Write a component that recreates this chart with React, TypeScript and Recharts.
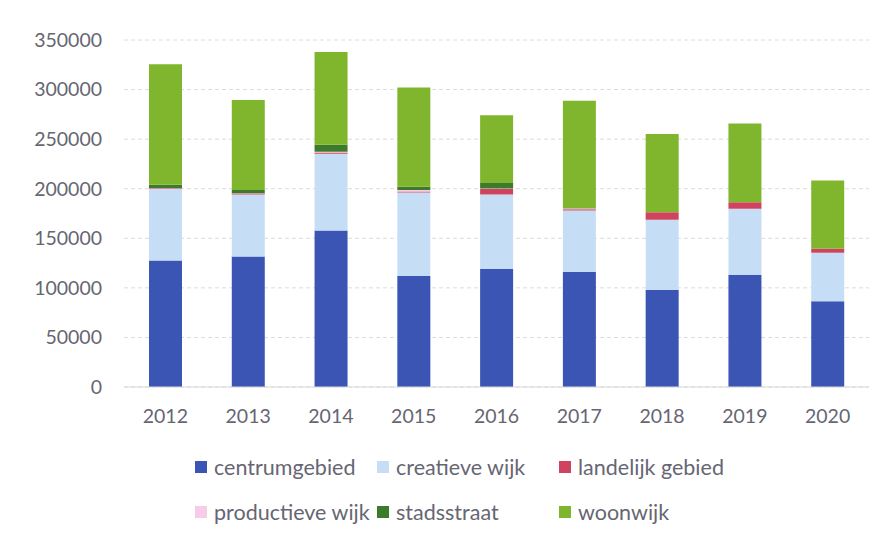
import React from "react";
import { BarChart, Bar, XAxis, YAxis, CartesianGrid } from "recharts";

document.body.style.margin = "0";

const years = ["2012", "2013", "2014", "2015", "2016", "2017", "2018", "2019", "2020"];
const centrumgebied = [127700, 131700, 157900, 111900, 119300, 116000, 98200, 113300, 86500];
const creatieveWijk = [71900, 62400, 77400, 84200, 74800, 62000, 70400, 66400, 49000];
const landelijkGebied = [800, 1000, 1200, 1200, 5700, 1300, 7700, 6700, 4000];
const productieveWijk = [300, 200, 800, 1500, 300, 700, 0, 0, 0];
const stadsstraat = [3300, 3300, 7000, 3300, 5600, 300, 0, 0, 0];
const woonwijk = [121500, 91000, 93600, 99900, 68500, 108300, 78900, 79400, 68700];
const yTicks = [0, 50000, 100000, 150000, 200000, 250000, 300000, 350000];

const series = [
  { key: "centrumgebied", name: "centrumgebied", color: "#3b55b5", values: centrumgebied },
  { key: "creatieveWijk", name: "creatieve wijk", color: "#c6def5", values: creatieveWijk },
  { key: "landelijkGebied", name: "landelijk gebied", color: "#d0435e", values: landelijkGebied },
  { key: "productieveWijk", name: "productieve wijk", color: "#f5cde8", values: productieveWijk },
  { key: "stadsstraat", name: "stadsstraat", color: "#3e7a2c", values: stadsstraat },
  { key: "woonwijk", name: "woonwijk", color: "#80b62d", values: woonwijk },
];

const data = years.map((year, i) => {
  const row: Record<string, string | number> = { year };
  series.forEach((s) => { row[s.key] = s.values[i]; });
  return row;
});

const FONT = "Lato, 'Open Sans', sans-serif";
const TEXT = "#666672";

export default function App() {
  return (
    <div style={{ position: "relative", width: 883, height: 537, background: "#fff", fontFamily: FONT }}>
      <BarChart
        width={883}
        height={430}
        data={data}
        margin={{ top: 40, right: 14, left: 24, bottom: 0 }}
        barSize={33}
      >
        <CartesianGrid vertical={false} stroke="#dedada" strokeDasharray="4 3" />
        <XAxis
          dataKey="year"
          tick={{ fill: TEXT, fontSize: 19.5, fontFamily: FONT }}
          axisLine={{ stroke: "#d9d9d9" }}
          tickLine={false}
          tickSize={0}
          tickMargin={22}
          height={43}
        />
        <YAxis
          domain={[0, 350000]}
          ticks={yTicks}
          tick={{ fill: TEXT, fontSize: 19.5, fontFamily: FONT }}
          axisLine={false}
          tickLine={false}
          tickSize={0}
          tickMargin={22}
          width={100}
        />
        {series.map((s) => (
          <Bar key={s.key} dataKey={s.key} name={s.name} stackId="a" fill={s.color} isAnimationActive={false} />
        ))}
      </BarChart>
      <div
        style={{
          position: "absolute",
          left: 195,
          top: 454,
          display: "grid",
          gridTemplateColumns: "182px 182px 200px",
          rowGap: 19,
          fontSize: 21.5,
          color: TEXT,
        }}
      >
        {series.map((s) => (
          <div key={s.key} style={{ display: "flex", alignItems: "center", height: 26 }}>
            <span style={{ width: 12, height: 12, background: s.color, marginRight: 7, display: "inline-block" }} />
            <span>{s.name}</span>
          </div>
        ))}
      </div>
    </div>
  );
}
